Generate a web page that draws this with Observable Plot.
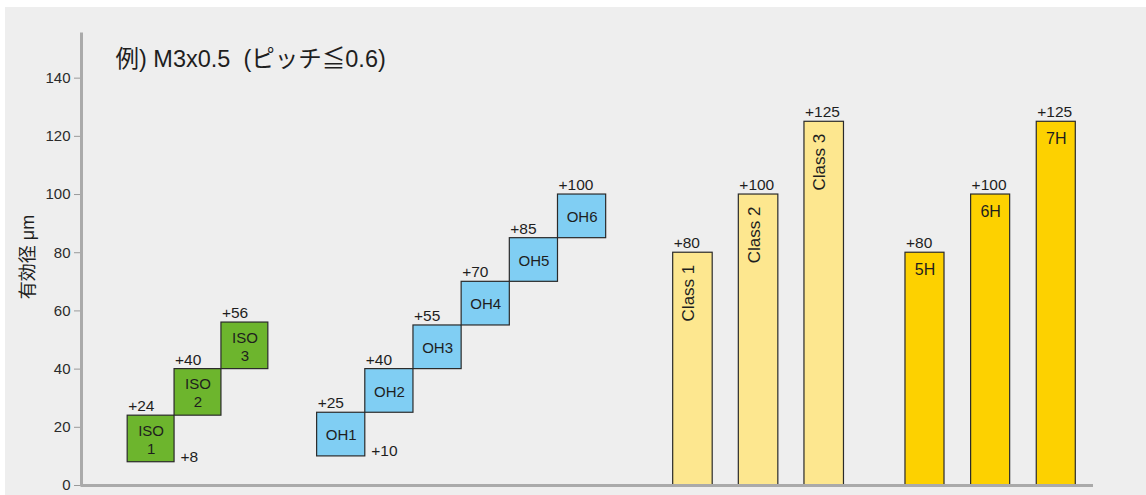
<!DOCTYPE html>
<html><head><meta charset="utf-8">
<script src="https://cdn.jsdelivr.net/npm/d3@7"></script>
<script src="https://cdn.jsdelivr.net/npm/@observablehq/plot@0.6"></script>
<style>
html,body{margin:0;padding:0;background:#fff;}
#chart{position:absolute;left:5px;top:7px;}
</style></head><body><div id="chart"></div>
<script>
// ---- data ----
const titleText = "例) M3x0.5  (ピッチ≦0.6)";
const yLabelText = "有効径 μm";
const yTicks = [0, 20, 40, 60, 80, 100, 120, 140];
const isoNames = ["ISO\n1", "ISO\n2", "ISO\n3"];
const isoLower = [8, 24, 40];
const isoUpper = [24, 40, 56];
const ohNames = ["OH1", "OH2", "OH3", "OH4", "OH5", "OH6"];
const ohLower = [10, 25, 40, 55, 70, 85];
const ohUpper = [25, 40, 55, 70, 85, 100];
const classNames = ["Class 1", "Class 2", "Class 3"];
const classUpper = [80, 100, 125];
const hNames = ["5H", "6H", "7H"];
const hUpper = [80, 100, 125];

// ---- layout / style (slot units along x) ----
const layout = {
  iso: {start: 0.97, step: 0.985, width: 0.985, fill: "#6db52d"},
  oh:  {start: 4.95, step: 1.012, width: 1.012, fill: "#80cef3"},
  cls: {start: 12.43, step: 1.379, width: 0.83, fill: "#fde78f"},
  h:   {start: 17.31, step: 1.379, width: 0.82, fill: "#fdd100"}
};

function rows(group, names, lower, upper) {
  const L = layout[group];
  return names.map((name, i) => {
    const x1 = L.start + i * L.step;
    return {group, i, name, lo: lower ? lower[i] : 0, hi: upper[i], x1, x2: x1 + L.width, xm: x1 + L.width / 2, fill: L.fill};
  });
}
const isoRows = rows("iso", isoNames, isoLower, isoUpper);
const ohRows = rows("oh", ohNames, ohLower, ohUpper);
const clsRows = rows("cls", classNames, null, classUpper);
const hRows = rows("h", hNames, null, hUpper);
const all = [...isoRows, ...ohRows, ...clsRows, ...hRows];
const stairs = [...isoRows, ...ohRows];
const firstSteps = [isoRows[0], ohRows[0]];

const chart = Plot.plot({
  width: 1141,
  height: 488,
  marginLeft: 76,
  marginRight: 53,
  marginTop: 27,
  marginBottom: 10,
  style: {
    background: "#eeeeee",
    fontFamily: "'Liberation Sans', Arial, Helvetica, 'Noto Sans CJK JP', sans-serif",
    fontSize: "15px",
    color: "#1e1e1e"
  },
  x: {domain: [0, 21.26], axis: null},
  y: {domain: [0, 155]},
  marks: [
    Plot.axisY({ticks: yTicks, tickSize: 7, tickPadding: 4, stroke: "#9a9a9a", fill: "#2a2a2a", fontSize: 15, label: null, tickFormat: d => String(d)}),
    Plot.rect(all, {x1: "x1", x2: "x2", y1: "lo", y2: "hi", fill: "fill", stroke: "#2a2a2a", strokeWidth: 1.2}),
    Plot.ruleX([0], {stroke: "#aaaaaa", strokeWidth: 3, strokeLinecap: "square"}),
    Plot.ruleY([0], {stroke: "#aaaaaa", strokeWidth: 3}),
    // upper value labels
    Plot.text(all, {x: "x1", y: "hi", text: d => "+" + d.hi, textAnchor: "start", lineAnchor: "middle", dy: -9.5, dx: 0.5, fontSize: 15.5}),
    // lower value labels (first step only)
    Plot.text(firstSteps, {x: "x2", y: "lo", text: d => "+" + d.lo, textAnchor: "start", lineAnchor: "middle", dx: 6, dy: -5, fontSize: 15.5}),
    // staircase box names
    Plot.text(stairs, {x: "xm", y: d => (d.lo + d.hi) / 2, text: "name", fontSize: 15, lineHeight: 1.2}),
    // class names rotated
    Plot.text(clsRows, {x: "xm", y: "hi", text: "name", rotate: -90, textAnchor: "end", lineAnchor: "middle", dy: 12, dx: -4.5, fontSize: 17}),
    // H names
    Plot.text(hRows, {x: "xm", y: "hi", text: "name", lineAnchor: "middle", dy: 17, fontSize: 16}),
    // title
    Plot.text([titleText], {frameAnchor: "top-left", text: d => d, textAnchor: "start", lineAnchor: "middle", dx: 34, dy: 24.5, fontSize: 23.5}),
    // y label
    Plot.text([yLabelText], {frameAnchor: "left", text: d => d, rotate: -90, textAnchor: "middle", lineAnchor: "middle", dx: -53.5, dy: -3, fontSize: 18})
  ]
});
document.getElementById("chart").appendChild(chart);
</script>
</body></html>
